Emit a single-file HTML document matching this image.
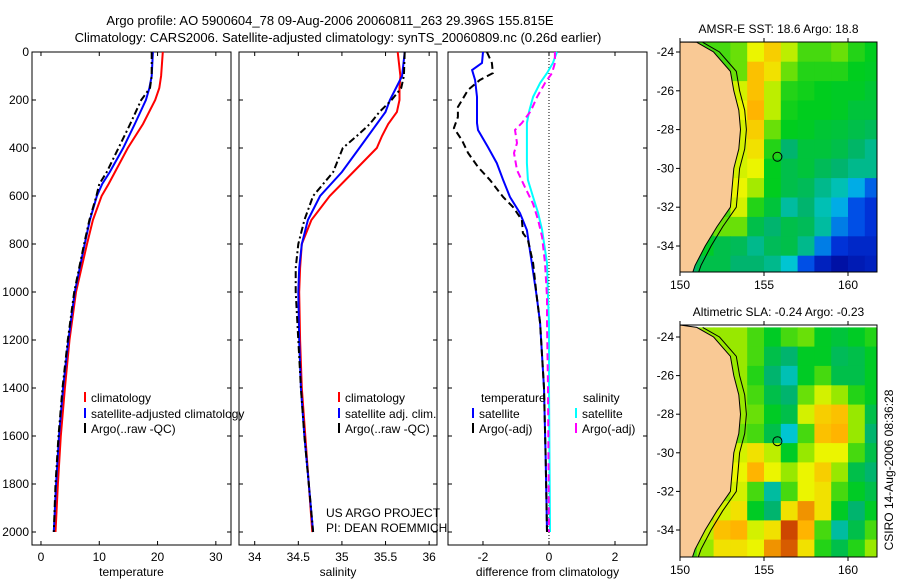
<!DOCTYPE html>
<html><head><meta charset="utf-8">
<style>
body{margin:0;background:#fff;}
svg{display:block;font-family:"Liberation Sans",sans-serif;font-size:12px;}
</style></head>
<body>
<svg id="fig" width="900" height="580" viewBox="0 0 900 580" xmlns="http://www.w3.org/2000/svg">
<rect x="0" y="0" width="900" height="580" fill="#fff"/>
<text x="330" y="25" text-anchor="middle" font-size="13">Argo profile: AO 5900604_78 09-Aug-2006 20060811_263 29.396S 155.815E</text>
<text x="338" y="42" text-anchor="middle" font-size="13">Climatology: CARS2006. Satellite-adjusted climatology: synTS_20060809.nc (0.26d earlier)</text>
<g id="plots"></g>
<text x="326" y="517">US ARGO PROJECT</text>
<text x="326" y="532">PI: DEAN ROEMMICH</text>
<text transform="translate(893,470) rotate(-90)" text-anchor="middle">CSIRO 14-Aug-2006 08:36:28</text>
</svg>
<script>
// ---- data ----
const tDepth=[0,100,150,200,300,400,500,550,600,700,800,1000,1200,1400,1600,1800,2000];
const tClim=[20.9,20.6,20.3,19.6,17.5,14.9,12.7,11.6,10.4,8.9,7.9,6.0,4.9,4.1,3.4,2.9,2.5];
const tSat=[19.2,19.0,18.6,18.0,16.1,14.1,11.8,10.5,9.6,8.4,7.5,5.8,4.7,3.8,3.1,2.6,2.2];
const tArgo=[19.0,19.0,18.7,17.2,15.3,13.3,11.3,10.0,9.5,8.3,7.4,5.7,4.6,3.7,3.0,2.5,2.2];
const sDepth=[0,100,150,200,250,300,350,400,500,600,700,800,900,1000,1200,1400,1600,1800,2000];
const sClim=[35.64,35.67,35.66,35.66,35.63,35.53,35.46,35.4,35.13,34.86,34.65,34.54,34.52,34.51,34.52,34.54,34.58,34.62,34.66];
const sSat=[35.72,35.69,35.62,35.55,35.5,35.4,35.3,35.2,35.0,34.75,34.61,34.54,34.51,34.5,34.51,34.53,34.57,34.62,34.67];
const sArgo=[35.72,35.71,35.68,35.57,35.43,35.32,35.17,35.01,34.9,34.67,34.57,34.5,34.47,34.47,34.5,34.53,34.57,34.62,34.67];
const dTSatDepth=[0,46,75,117,187,296,325,396,463,533,604,671,742,879,1021,1129,1400,1700,2000];
const dTSat=[-2.0,-2.03,-2.33,-2.24,-2.18,-2.18,-2.15,-1.85,-1.58,-1.39,-1.18,-0.88,-0.67,-0.52,-0.37,-0.27,-0.15,-0.1,-0.06];
const dTArgoDepth=[0,46,88,117,158,229,271,317,367,421,479,533,604,646,700,754,783,879,1021,1129,1400,1700,2000];
const dTArgo=[-1.88,-1.73,-1.7,-2.1,-2.45,-2.76,-2.76,-2.88,-2.64,-2.45,-2.15,-1.79,-1.39,-1.09,-0.82,-0.79,-0.64,-0.48,-0.37,-0.27,-0.15,-0.1,-0.06];
const dSSatDepth=[0,46,88,129,187,246,296,463,533,604,671,742,879,1021,1129,1400,2000];
const dSSat=[0.24,0.12,-0.06,-0.27,-0.48,-0.6,-0.67,-0.67,-0.64,-0.48,-0.33,-0.21,-0.06,-0.03,0,0,0.03];
const dSArgoDepth=[0,46,88,129,187,246,296,325,379,421,492,563,633,700,771,879,1021,1129,1400,2000];
const dSArgo=[0.18,0.18,0.09,-0.12,-0.36,-0.55,-0.82,-1.03,-0.97,-1.06,-0.97,-0.73,-0.48,-0.33,-0.21,-0.12,-0.06,-0.06,-0.03,0.0];
const depthTicks=[0,200,400,600,800,1000,1200,1400,1600,1800,2000];
const tTicks=[0,10,20,30];
const sTicks=[34,34.5,35,35.5,36];
const sTickLabels=["34","34.5","35","35.5","36"];
const dTicks=[-2,0,2];
const latTicks=[-24,-26,-28,-30,-32,-34];
const lonTicks=[150,155,160];
const mapLons=[150.5,151.5,152.5,153.5,154.5,155.5,156.5,157.5,158.5,159.5,160.5,161.5];
const mapLats=[-24,-25,-26,-27,-28,-29,-30,-31,-32,-33,-34,-35];
const sstGrid=[
[0.6,0.6,0.6,0.62,0.72,0.78,0.68,0.6,0.6,0.62,0.58,0.56],
[0.6,0.6,0.6,0.62,0.8,0.75,0.62,0.58,0.58,0.58,0.56,0.55],
[0.6,0.6,0.6,0.7,0.8,0.68,0.58,0.57,0.56,0.55,0.55,0.53],
[0.6,0.6,0.6,0.72,0.82,0.68,0.57,0.56,0.56,0.55,0.52,0.52],
[0.6,0.6,0.6,0.7,0.78,0.62,0.56,0.55,0.53,0.52,0.5,0.48],
[0.6,0.6,0.6,0.7,0.75,0.58,0.45,0.52,0.52,0.5,0.46,0.42],
[0.6,0.6,0.6,0.7,0.72,0.56,0.5,0.52,0.48,0.45,0.42,0.42],
[0.6,0.6,0.6,0.72,0.66,0.56,0.5,0.48,0.42,0.38,0.3,0.22],
[0.6,0.6,0.6,0.7,0.58,0.52,0.4,0.45,0.38,0.3,0.2,0.15],
[0.58,0.58,0.62,0.62,0.5,0.45,0.5,0.48,0.4,0.25,0.2,0.15],
[0.5,0.55,0.5,0.48,0.42,0.48,0.5,0.42,0.25,0.15,0.12,0.12],
[0.45,0.5,0.5,0.45,0.45,0.42,0.35,0.2,0.1,0.05,0.08,0.1]];
const slaGrid=[
[0.65,0.65,0.65,0.65,0.6,0.55,0.6,0.62,0.55,0.52,0.55,0.58],
[0.65,0.65,0.65,0.65,0.6,0.5,0.45,0.55,0.55,0.48,0.5,0.55],
[0.65,0.65,0.65,0.65,0.58,0.45,0.38,0.55,0.6,0.5,0.5,0.55],
[0.65,0.65,0.65,0.65,0.6,0.5,0.45,0.62,0.7,0.65,0.58,0.55],
[0.65,0.65,0.65,0.65,0.62,0.55,0.5,0.7,0.78,0.8,0.65,0.5],
[0.65,0.65,0.65,0.62,0.6,0.5,0.35,0.6,0.8,0.82,0.65,0.45],
[0.65,0.65,0.65,0.7,0.75,0.68,0.55,0.65,0.72,0.72,0.6,0.5],
[0.65,0.65,0.65,0.72,0.82,0.72,0.65,0.72,0.78,0.65,0.5,0.45],
[0.65,0.65,0.65,0.7,0.6,0.4,0.6,0.72,0.75,0.6,0.55,0.5],
[0.65,0.65,0.7,0.75,0.55,0.45,0.75,0.85,0.75,0.55,0.45,0.55],
[0.6,0.68,0.8,0.82,0.7,0.75,0.92,0.82,0.6,0.4,0.5,0.6],
[0.6,0.65,0.75,0.75,0.72,0.85,0.9,0.75,0.58,0.5,0.58,0.65]];
const coastLon=[151.0,152.0,153.0,153.2,153.5,153.6,153.5,153.2,153.1,153.0,152.2,151.5,150.9,150.7];
const coastLat=[-23.5,-24,-25,-26,-27,-28,-29,-30,-31,-32,-33,-34,-35,-35.5];
const floatLon=155.8, floatLat=-29.4;

// ---- drawing ----
const NS="http://www.w3.org/2000/svg";
const root=document.getElementById('plots');
function mk(tag,attrs,parent){const e=document.createElementNS(NS,tag);for(const k in attrs)e.setAttribute(k,attrs[k]);(parent||root).appendChild(e);return e;}
const Y0=52,Y1=545;
const yD=d=>Y0+d*0.24;

function panel(name,x0,x1,xmin,xmax,ticks,labels,xlabel,ylabels){
  const g=mk('g',{});
  
  
  const xs=v=>x0+(v-xmin)/(xmax-xmin)*(x1-x0);
  const box=mk('rect',{x:x0,y:Y0,width:x1-x0,height:Y1-Y0,fill:'none',stroke:'#000','stroke-width':1},g);
  
  
  ticks.forEach((t,i)=>{const x=xs(t);
    mk('line',{x1:x,y1:Y0,x2:x,y2:Y0+4,stroke:'#000'},g);
    mk('line',{x1:x,y1:Y1,x2:x,y2:Y1-4,stroke:'#000'},g);
    const tx=mk('text',{x:x,y:561,'text-anchor':'middle'},g);tx.textContent=labels[i];
    
    
  });
  depthTicks.forEach(d=>{const y=yD(d);
    mk('line',{x1:x0,y1:y,x2:x0+4,y2:y,stroke:'#000'},g);
    mk('line',{x1:x1,y1:y,x2:x1-4,y2:y,stroke:'#000'},g);
    if(ylabels){const tx=mk('text',{x:x0-3,y:y+4,'text-anchor':'end'},g);tx.textContent=d;
      
      }
  });
  const xl=mk('text',{x:(x0+x1)/2,y:576,'text-anchor':'middle'},g);xl.textContent=xlabel;
  
  
  return {g,xs};
}
function line(p,vals,depths,color,dash,name){
  const pts=vals.map((v,i)=>p.xs(v).toFixed(1)+','+yD(depths[i]).toFixed(1)).join(' ');
  const a={points:pts,fill:'none',stroke:color,'stroke-width':2};
  if(dash)a['stroke-dasharray']=dash;
  const l=mk('polyline',a,p.g);
  
  
}
function legend(p,x,y,color,label,name){
  mk('line',{x1:x,y1:y-10,x2:x,y2:y,stroke:color,'stroke-width':2},p.g);
  const t=mk('text',{x:x+6,y:y},p.g);t.textContent=label;
  
  
}
// temperature
const p1=panel('temperature-panel',32,231,-1.54,32.6,tTicks,tTicks.map(String),'temperature',true);
line(p1,tClim,tDepth,'#ff0000',null,'temp-climatology-line');
line(p1,tSat,tDepth,'#0000ff',null,'temp-satellite-line');
line(p1,tArgo,tDepth,'#000',"7,3,2,3",'temp-argo-line');
legend(p1,85,402,'#ff0000','climatology','legend-climatology');
legend(p1,85,418,'#0000ff','satellite-adjusted climatology','legend-satellite');
legend(p1,85,433,'#000','Argo(..raw -QC)','legend-argo');
// salinity
const p2=panel('salinity-panel',239,437,33.82,36.09,sTicks,sTickLabels,'salinity',false);
line(p2,sClim,sDepth,'#ff0000',null,'sal-climatology-line');
line(p2,sSat,sDepth,'#0000ff',null,'sal-satellite-line');
line(p2,sArgo,sDepth,'#000',"7,3,2,3",'sal-argo-line');
legend(p2,339,402,'#ff0000','climatology','legend-climatology');
legend(p2,339,418,'#0000ff','satellite adj. clim.','legend-satellite');
legend(p2,339,433,'#000','Argo(..raw -QC)','legend-argo');
// diff
const p3=panel('difference-panel',448,647,-3.06,2.97,dTicks,["-2","0","2"],'difference from climatology',false);
const zx=p3.xs(0);
mk('line',{x1:zx,y1:Y0,x2:zx,y2:Y1,stroke:'#000','stroke-dasharray':'1,2'},p3.g);
line(p3,dSSat,dSSatDepth,'#00ffff',null,'diff-sal-satellite-line');
line(p3,dSArgo,dSArgoDepth,'#ff00ff',"7,4",'diff-sal-argo-line');
line(p3,dTSat,dTSatDepth,'#0000ff',null,'diff-temp-satellite-line');
line(p3,dTArgo,dTArgoDepth,'#000',"7,4",'diff-temp-argo-line');
let th=mk('text',{x:481,y:402},p3.g);th.textContent='temperature';


let sh=mk('text',{x:583,y:402},p3.g);sh.textContent='salinity';


legend(p3,473,418,'#0000ff','satellite','legend-temp-satellite');
legend(p3,473,433,'#000','Argo(-adj)','legend-temp-argo');
legend(p3,576,418,'#00ffff','satellite','legend-sal-satellite');
legend(p3,576,433,'#ff00ff','Argo(-adj)','legend-sal-argo');

// maps
const cstops=[[0,[0,0,140]],[0.18,[0,60,230]],[0.33,[0,200,230]],[0.45,[0,180,110]],[0.56,[0,205,30]],[0.64,[140,230,0]],[0.72,[235,245,0]],[0.82,[255,180,0]],[0.92,[205,70,0]],[1,[150,30,0]]];
function cmap(v){for(let i=1;i<cstops.length;i++){if(v<=cstops[i][0]){const a=cstops[i-1],b=cstops[i];const f=(v-a[0])/(b[0]-a[0]);const c=a[1].map((x,k)=>Math.round(x+(b[1][k]-x)*f));return 'rgb('+c.join(',')+')';}}return 'rgb(150,30,0)';}
function map(name,title,grid,top,bottom,latAt24,latAt34){
  const g=mk('g',{});
  
  
  const L=680,R=877;
  const lx=lon=>L+(lon-150)*16.8;
  const ly=lat=>latAt24+(-24-lat)*(latAt34-latAt24)/10;
  const cp=mk('clipPath',{id:name+'-clip'},g);
  mk('rect',{x:L,y:top,width:R-L,height:bottom-top},cp);
  const cg=mk('g',{'clip-path':'url(#'+name+'-clip)'},g);
  grid.forEach((row,i)=>row.forEach((v,j)=>{
    const c=mk('rect',{x:(lx(mapLons[j]-0.5)).toFixed(1),y:(ly(mapLats[i]+0.5)).toFixed(1),width:17.4,height:(latAt34-latAt24)/10+0.6,fill:cmap(v)},cg);
    
    
  }));
  let pts=coastLon.map((lo,i)=>lx(lo).toFixed(1)+','+ly(coastLat[i]).toFixed(1));
  const land=mk('polygon',{points:L+','+top+' '+pts.join(' ')+' '+L+','+bottom,fill:'#f9c995',stroke:'#000','stroke-width':1},cg);
  
  
  const iso=mk('polyline',{points:coastLon.map((lo,i)=>lx(lo+0.35).toFixed(1)+','+ly(coastLat[i]).toFixed(1)).join(' '),fill:'none',stroke:'#000','stroke-width':1},cg);
  
  
  const fl=mk('circle',{cx:lx(floatLon),cy:ly(floatLat),r:4.5,fill:'none',stroke:'#000'},g);
  
  
  mk('rect',{x:L,y:top,width:R-L,height:bottom-top,fill:'none',stroke:'#000'},g);
  latTicks.forEach(t=>{const y=ly(t);mk('line',{x1:L-4,y1:y,x2:L,y2:y,stroke:'#000'},g);
    const tx=mk('text',{x:L-6,y:y+4,'text-anchor':'end'},g);tx.textContent=String(t);
    
    });
  lonTicks.forEach(t=>{const x=lx(t);mk('line',{x1:x,y1:top-4,x2:x,y2:top,stroke:'#000'},g);mk('line',{x1:x,y1:bottom,x2:x,y2:bottom+4,stroke:'#000'},g);
    const tx=mk('text',{x:x,y:bottom+17,'text-anchor':'middle'},g);tx.textContent=t;
    
    });
  const tt=mk('text',{x:(L+R)/2,y:top-9,'text-anchor':'middle'},g);tt.textContent=title;
  
  
}
map('sst-map','AMSR-E SST: 18.6 Argo: 18.8',sstGrid,42,272,52,246);
map('sla-map','Altimetric SLA: -0.24 Argo: -0.23',slaGrid,325,557,337,530);
</script>
</body></html>
